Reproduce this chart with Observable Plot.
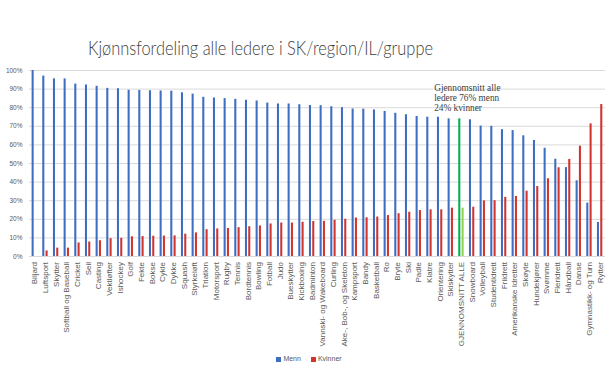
<!DOCTYPE html>
<html><head><meta charset="utf-8">
<script src="https://cdn.jsdelivr.net/npm/d3@7"></script>
<script src="https://cdn.jsdelivr.net/npm/@observablehq/plot@0.6"></script>
<style>
body{margin:0;background:#fff;}
#wrap{position:relative;width:612px;height:373px;overflow:hidden;font-family:"Liberation Sans",Arial,sans-serif;}
#chart{position:absolute;left:0;top:0;}
#title{position:absolute;left:88px;top:38px;font-family:Lato,"Open Sans",sans-serif;font-weight:300;font-size:19px;line-height:19px;color:#404040;white-space:nowrap;transform-origin:0 0;}
#legend{position:absolute;top:355px;left:0;width:612px;display:flex;justify-content:center;gap:10px;font-size:7px;color:#595959;padding-left:6px;box-sizing:border-box;}
#legend span.sw{display:inline-block;width:5px;height:5px;margin-right:2px;vertical-align:middle;}
</style></head>
<body>
<div id="wrap">
  <div id="chart"></div>
  <div id="title">Kjønnsfordeling alle ledere i SK/region/IL/gruppe</div>
  <div id="legend"></div>
</div>
<script>
const categories = ["Biljard","Luftsport","Skytter","Softball og Baseball","Cricket","Seil","Casting","Vektløfter","Ishockey","Golf","Fekte","Bokse","Cykle","Dykke","Squash","Styrkeløft","Triatlon","Motorsport","Rugby","Tennis","Bordtennis","Bowling","Fotball","Judo","Bueskytter","Kickboxing","Badminton","Vannski- og Wakeboard","Curling","Ake-, Bob-, og Skeleton","Kampsport","Bandy","Basketball","Ro","Bryte","Ski","Padle","Klatre","Orientering","Skiskytter","GJENNOMSNITT ALLE","Snowboard","Volleyball","Studentidrett","Friidrett","Amerikanske Idretter","Skøyte","Hundekjører","Svømme","Fleridrett","Håndball","Danse","Gymnastikk- og Turn","Rytter"];
const menn = [100,97,95.5,95.5,92.7,92.2,91.5,90.4,90.2,89.4,89.3,89.1,89,88.9,88,87.3,85.6,85.2,84.9,84.5,84,83.6,82.5,82,82,81.6,81.2,81.1,80.5,80,79.3,79.2,78.8,78,77,76.2,75.3,74.9,74.9,74,74,73.5,70.1,70,68.2,67.7,64.9,62.4,58.2,52.3,47.8,40.7,28.7,18.3];
const kvinner = [0,3,4.5,4.5,7.3,7.8,8.5,9.6,9.8,10.6,10.7,10.9,11,11.1,12,12.7,14.4,14.8,15.1,15.5,16,16.4,17.5,18,18,18.4,18.8,18.9,19.5,20,20.7,20.8,21.2,22,23,23.8,24.7,25.1,25.1,26,26,26.5,29.9,30,31.8,32.3,35.1,37.6,41.8,47.7,52.2,59.3,71.3,81.7];
const avgLabel = "GJENNOMSNITT ALLE";
const yTicks = [0,0.1,0.2,0.3,0.4,0.5,0.6,0.7,0.8,0.9,1];
const seriesNames = ["Menn","Kvinner"];
const annotationText = "Gjennomsnitt alle\nledere 76% menn\n24% kvinner";
const annotationAt = {cat:"Orientering", y:0.93};

const colMenn = "#3E6EBF", colKvinner = "#D1342D", colAvgM = "#00B050", colAvgK = "#92D050";
const data = categories.map((c,i)=>({cat:c, menn:menn[i]/100, kvinner:kvinner[i]/100}));

const chart = Plot.plot({
  width:612, height:373,
  marginLeft:29, marginRight:7, marginTop:70, marginBottom:117,
  x:{domain:categories, padding:0, label:null},
  y:{domain:[0,1], label:null},
  style:{fontFamily:"'Liberation Sans', Arial, sans-serif", color:"#595959", background:"transparent", overflow:"visible"},
  marks:[
    Plot.gridY(yTicks,{stroke:"#d9d9d9", strokeOpacity:1}),
    Plot.axisY(yTicks,{tickSize:0, tickPadding:7, tickFormat:d=>Math.round(d*100)+"%", fontSize:6.5, label:null}),
    Plot.barY(data,{x:"cat", y:"menn", insetLeft:2.6, insetRight:6.0, fill:d=>d.cat===avgLabel?colAvgM:colMenn}),
    Plot.barY(data,{x:"cat", y:"kvinner", insetLeft:5.9, insetRight:2.7, fill:d=>d.cat===avgLabel?colAvgK:colKvinner}),
    Plot.ruleY([0],{stroke:"#d9d9d9"}),
    Plot.axisX({tickSize:0, tickPadding:5.5, tickRotate:-90, fontSize:8, label:null}),
    Plot.text([annotationAt],{x:"cat", y:"y", text:()=>annotationText, textAnchor:"start", lineAnchor:"top", dx:-6, fontFamily:"'Liberation Serif', 'DejaVu Serif', serif", fontSize:9.3, lineHeight:1.1, fill:"#404040"})
  ]
});
document.getElementById("chart").appendChild(chart);

const legend = document.getElementById("legend");
[[seriesNames[0],colMenn],[seriesNames[1],colKvinner]].forEach(([n,c])=>{
  const s=document.createElement("span");
  s.innerHTML=`<span class="sw" style="background:${c}"></span>${n}`;
  legend.appendChild(s);
});
const t=document.getElementById("title");
const w=t.getBoundingClientRect().width;
t.style.transform=`scaleX(${345/w})`;
</script>
</body></html>
